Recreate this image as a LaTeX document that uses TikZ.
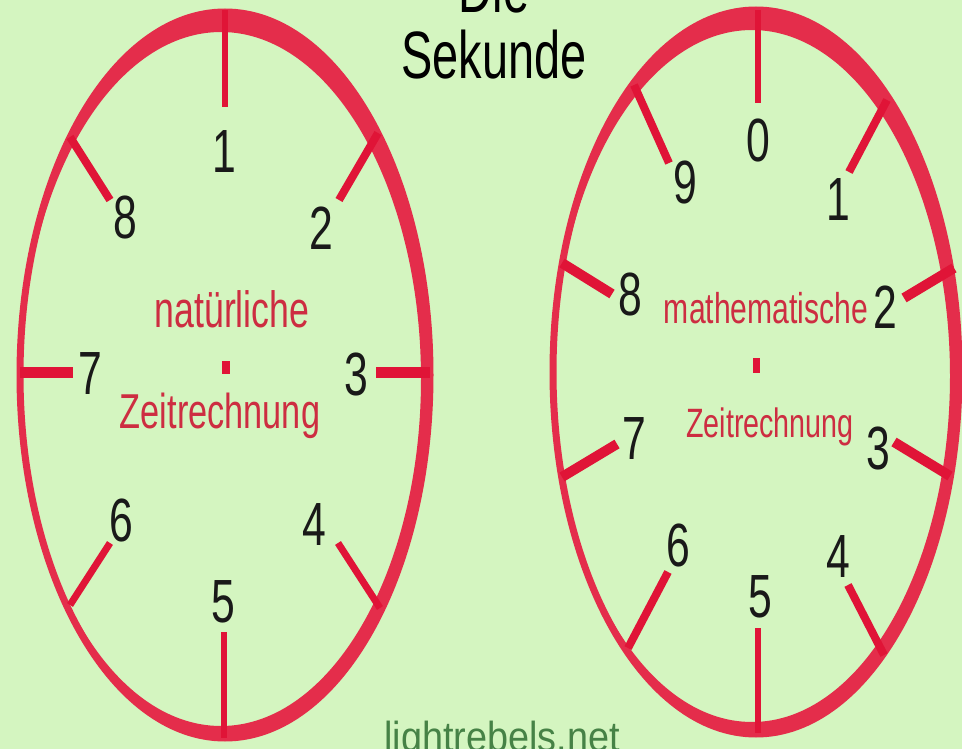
\documentclass[tikz,border=0pt]{standalone}
\usepackage{tikz}
\usepackage{fontspec}
\setmainfont{Liberation Sans}
\newfontfamily\clockfont[FakeStretch=0.7]{Liberation Sans}
\newfontfamily\webfont[FakeStretch=0.9]{Liberation Sans}

\definecolor{paper}{RGB}{212,245,192}
\definecolor{ringred}{RGB}{228,45,75}
\definecolor{tickred}{RGB}{224,20,55}
\definecolor{textred}{RGB}{205,45,65}
\definecolor{webgreen}{RGB}{70,130,70}

\begin{document}
\begin{tikzpicture}[x=1pt, y=-1pt,
    ring/.style={draw=ringred, line width=7pt},
    tickline/.style={draw=tickred, line width=7pt},
    digit/.style={inner sep=0pt, text=black!90, font=\clockfont\fontsize{61}{61}\selectfont},
    midtext/.style={inner sep=0pt, anchor=base, text=textred}]
    \useasboundingbox (0,0) rectangle (962,749);
    \clip (0,0) rectangle (962,749);
    \fill[paper] (0,0) rectangle (962,749);

    % title
    \node[anchor=base, font=\clockfont\fontsize{67}{67}\selectfont] (die) at (494,13) {Die};
    \node[anchor=base, font=\clockfont\fontsize{67}{67}\selectfont] (sek) at (494,79) {Sekunde};

    % left dial: natural count
    \fill[ringred, even odd rule] (225,375) ellipse [x radius=205pt, y radius=363pt]
        (221,379) ellipse [x radius=200pt, y radius=347pt];
    \draw[ring] (225,375) ellipse [x radius=205pt, y radius=363pt];
    \draw[tickline, line width=6pt] (225,10) -- (225,107);
    \draw[tickline, line width=8pt] (378,133) -- (339,200);
    \draw[tickline, line width=11pt] (376,372) -- (430,372);
    \draw[tickline] (338,543) -- (380,608);
    \draw[tickline, line width=6pt] (224,632) -- (224,738);
    \draw[tickline] (70,605) -- (110,543);
    \draw[tickline, line width=11pt] (20,372) -- (73,372);
    \draw[tickline, line width=8pt] (70,137) -- (110,200);
    \node[digit] (l1) at (224,152) {1};
    \node[digit] (l2) at (321,228) {2};
    \node[digit] (l3) at (356,374) {3};
    \node[digit] (l4) at (314,525) {4};
    \node[digit] (l5) at (223,602) {5};
    \node[digit] (l6) at (121,520) {6};
    \node[digit] (l7) at (90,374) {7};
    \node[digit] (l8) at (125,218) {8};
    \node[midtext, font=\clockfont\fontsize{51}{51}\selectfont] (natur) at (232,327) {natürliche};
    \fill[tickred] (222,361) rectangle (230,374);
    \node[midtext, font=\clockfont\fontsize{49}{49}\selectfont] (zleft) at (220,428) {Zeitrechnung};

    % right dial: decimal count
    \fill[ringred, even odd rule] (756,372) ellipse [x radius=203pt, y radius=362pt]
        (752,376) ellipse [x radius=198pt, y radius=346pt];
    \draw[ring] (756,372) ellipse [x radius=203pt, y radius=362pt];
    \draw[tickline, line width=6pt] (758,10) -- (758,103);
    \draw[tickline, line width=8pt] (887,100) -- (849,172);
    \draw[tickline, line width=10pt] (954,268) -- (904,298);
    \draw[tickline, line width=10pt] (894,442) -- (950,476);
    \draw[tickline, line width=8pt] (848,585) -- (884,655);
    \draw[tickline, line width=6pt] (758,628) -- (758,733);
    \draw[tickline, line width=8pt] (628,648) -- (668,572);
    \draw[tickline, line width=10pt] (562,477) -- (617,444);
    \draw[tickline, line width=10pt] (562,263) -- (612,294);
    \draw[tickline, line width=8pt] (634,85) -- (669,163);
    \node[digit] (r0) at (758,141) {0};
    \node[digit] (r1) at (838,200) {1};
    \node[digit] (r2) at (885,307) {2};
    \node[digit] (r3) at (878,448) {3};
    \node[digit] (r4) at (838,557) {4};
    \node[digit] (r5) at (760,597) {5};
    \node[digit] (r6) at (678,545) {6};
    \node[digit] (r7) at (634,439) {7};
    \node[digit] (r8) at (630,295) {8};
    \node[digit] (r9) at (685,183) {9};
    \node[midtext, font=\clockfont\fontsize{43}{43}\selectfont] (math) at (766,323) {mathematische};
    \fill[tickred] (753,358) rectangle (760,373);
    \node[midtext, font=\clockfont\fontsize{41}{41}\selectfont] (zright) at (770,437) {Zeitrechnung};

    % watermark
    \node[anchor=base, text=webgreen, font=\webfont\fontsize{42}{42}\selectfont] (web) at (502,751) {lightrebels.net};
\end{tikzpicture}
\end{document}
